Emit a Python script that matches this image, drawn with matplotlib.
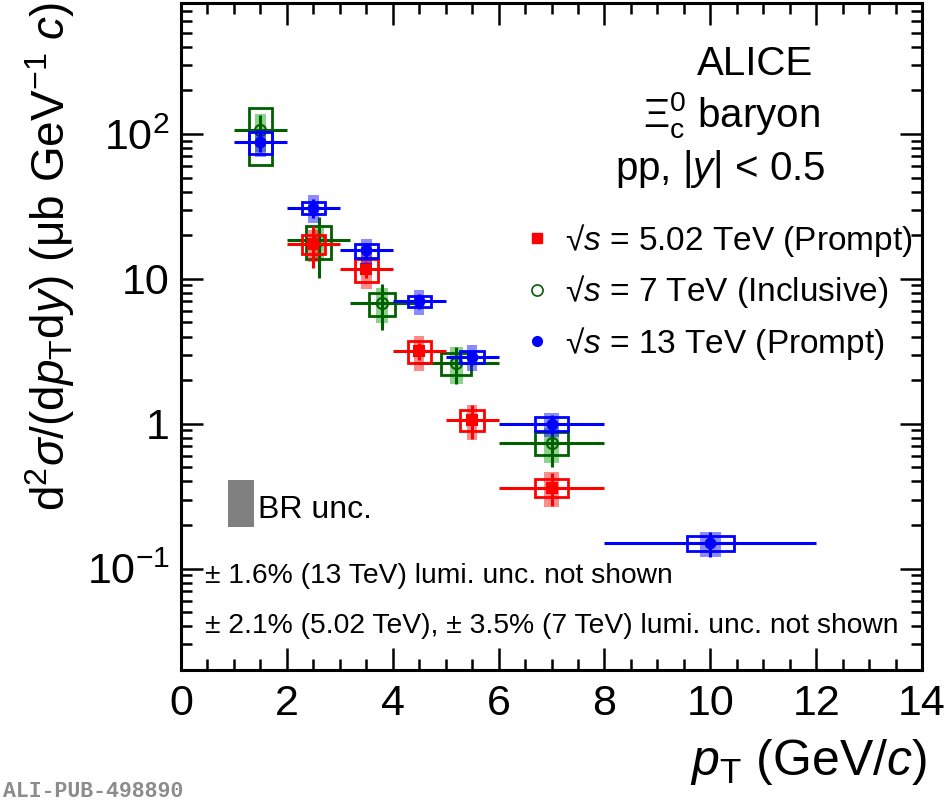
import numpy as np
import matplotlib
matplotlib.use("Agg")
import matplotlib.pyplot as plt
from matplotlib.patches import Rectangle
from matplotlib.lines import Line2D
from matplotlib.ticker import FixedLocator, MultipleLocator, LogLocator, NullFormatter

plt.rcParams['font.family'] = ['Liberation Sans', 'DejaVu Sans']
plt.rcParams['mathtext.fontset'] = 'custom'
plt.rcParams['mathtext.rm'] = 'Liberation Sans'
plt.rcParams['mathtext.it'] = 'Liberation Sans:italic'
plt.rcParams['mathtext.bf'] = 'Liberation Sans:bold'

# ---- data ----
# sqrt(s) = 5.02 TeV, prompt
pt_502 = np.array([2.5, 3.5, 4.5, 5.5, 7.0])
lo_502 = np.array([2.0, 3.0, 4.0, 5.0, 6.0])
hi_502 = np.array([3.0, 4.0, 5.0, 6.0, 8.0])
y_502 = np.array([17.5, 11.6, 3.18, 1.065, 0.363])
stat_502 = np.array([0.32, 0.12, 0.13, 0.26, 0.25])   # relative
syst_502 = np.array([0.15, 0.18, 0.17, 0.16, 0.14])
shade_502 = np.array([0.25, 0.27, 0.27, 0.27, 0.27])

# sqrt(s) = 7 TeV, inclusive
pt_7 = np.array([1.5, 2.6, 3.8, 5.2, 7.0])
lo_7 = np.array([1.0, 2.0, 3.2, 4.4, 6.0])
hi_7 = np.array([2.0, 3.2, 4.4, 6.0, 8.0])
y_7 = np.array([106.0, 18.5, 6.8, 2.63, 0.74])
stat_7 = np.array([0.28, 0.45, 0.35, 0.28, 0.32])
syst_7 = np.array([0.42, 0.26, 0.18, 0.17, 0.18])
shade_7 = np.array([0.29, 0.28, 0.27, 0.28, 0.27])

# sqrt(s) = 13 TeV, prompt
pt_13 = np.array([1.5, 2.5, 3.5, 4.5, 5.5, 7.0, 10.0])
lo_13 = np.array([1.0, 2.0, 3.0, 4.0, 5.0, 6.0, 8.0])
hi_13 = np.array([2.0, 3.0, 4.0, 5.0, 6.0, 8.0, 12.0])
y_13 = np.array([88.0, 31.0, 15.7, 7.0, 2.9, 1.0, 0.15])
stat_13 = np.array([0.15, 0.15, 0.13, 0.12, 0.12, 0.15, 0.20])
syst_13 = np.array([0.18, 0.10, 0.11, 0.09, 0.09, 0.11, 0.12])
shade_13 = np.array([0.21, 0.22, 0.19, 0.20, 0.20, 0.19, 0.20])

# BR uncertainty box
br_x = (0.89, 1.38)
br_y = (0.193, 0.412)

leg_labels = ['\u221a$s$ = 5.02 TeV (Prompt)',
              '\u221a$s$ = 7 TeV (Inclusive)',
              '\u221a$s$ = 13 TeV (Prompt)']

RED = '#ff0000'
GREEN = '#006000'
BLUE = '#0000ff'


def draw_series(ax, pt, lo, hi, y, stat, syst, shade, color, shade_col, marker, mfc, ms, zo):
    for i in range(len(pt)):
        bw = hi[i] - lo[i]
        hs = 0.10 * np.sqrt(bw)
        hb = 0.22 * np.sqrt(bw)
        ax.add_patch(Rectangle((pt[i] - hs, y[i] * (1 - shade[i])), 2 * hs, 2 * y[i] * shade[i],
                               facecolor=shade_col, alpha=0.45, edgecolor='none', zorder=zo))
        ax.add_patch(Rectangle((pt[i] - hb, y[i] * (1 - syst[i])), 2 * hb, 2 * y[i] * syst[i],
                               facecolor='none', edgecolor=color, lw=2.0, zorder=zo + 0.1))
    ax.errorbar(pt, y, xerr=[pt - lo, hi - pt], yerr=stat * y, fmt=marker, color=color,
                mfc=mfc, mec=color, ms=ms, mew=1.5, elinewidth=2.2, capsize=0,
                zorder=zo + 0.2)


fig = plt.figure(figsize=(9.5, 8.05), dpi=100)
ax = fig.add_axes([181 / 950, 1 - 670 / 805, (922 - 181) / 950, (670 - 3) / 805])

draw_series(ax, pt_7, lo_7, hi_7, y_7, stat_7, syst_7, shade_7, GREEN, '#00a000', 'o', 'none', 8, 3)
draw_series(ax, pt_502, lo_502, hi_502, y_502, stat_502, syst_502, shade_502, RED, RED, 's', RED, 7, 4)
draw_series(ax, pt_13, lo_13, hi_13, y_13, stat_13, syst_13, shade_13, BLUE, BLUE, 'o', BLUE, 7, 5)

ax.add_patch(Rectangle((br_x[0], br_y[0]), br_x[1] - br_x[0], br_y[1] - br_y[0],
                       facecolor='#808080', edgecolor='none', zorder=2))

ax.set_yscale('log')
ax.set_xlim(0, 14)
ax.set_ylim(0.02, 800)

ax.xaxis.set_major_locator(MultipleLocator(2))
ax.xaxis.set_minor_locator(MultipleLocator(0.5))
ax.yaxis.set_major_locator(FixedLocator([0.1, 1, 10, 100]))
ax.yaxis.set_minor_locator(LogLocator(base=10, subs=np.arange(2, 10)))
ax.yaxis.set_minor_formatter(NullFormatter())
ax.set_yticklabels(['$10^{-1}$', '1', '10', '$10^{2}$'])

ax.tick_params(which='both', direction='in', top=True, right=True, width=1.8, labelsize=31)
ax.tick_params(which='major', length=16)
ax.tick_params(which='minor', length=8)
ax.tick_params(axis='x', pad=10)
ax.tick_params(axis='y', pad=8)
for s in ax.spines.values():
    s.set_linewidth(2.2)

# legend
handles = [Line2D([], [], ls='none', marker='s', color=RED, ms=7),
           Line2D([], [], ls='none', marker='o', mfc='none', mec=GREEN, mew=1.2, ms=8),
           Line2D([], [], ls='none', marker='o', color=BLUE, ms=7)]
ax.legend(handles, leg_labels, loc='upper left', bbox_to_anchor=(520 / 950, 1 - 222 / 805),
          bbox_transform=fig.transFigure, frameon=False, fontsize=24, handlelength=1.0,
          handletextpad=0.35, labelspacing=0.43, borderpad=0, borderaxespad=0)

# annotations
fig.text(813 / 950, 1 - 75 / 805, 'ALICE', ha='right', va='baseline', fontsize=29)
fig.text(820 / 950, 1 - 127 / 805, r'$\Xi_{\rm c}^{0}$ baryon', ha='right', va='baseline', fontsize=29)
fig.text(825 / 950, 1 - 180 / 805, r'pp, |$y$| < 0.5', ha='right', va='baseline', fontsize=29)

fig.text(258 / 950, 1 - 518 / 805, 'BR unc.', ha='left', va='baseline', fontsize=23)
fig.text(205 / 950, 1 - 583 / 805, '\u00b1 1.6% (13 TeV) lumi. unc. not shown',
         ha='left', va='baseline', fontsize=20.3)
fig.text(205 / 950, 1 - 633 / 805, '\u00b1 2.1% (5.02 TeV), \u00b1 3.5% (7 TeV) lumi. unc. not shown',
         ha='left', va='baseline', fontsize=20.3)

# axis titles
fig.text(927 / 950, 1 - 775 / 805, r'$p_{\rm T}$ (GeV/$c$)', ha='right', va='baseline', fontsize=36)
fig.text(65 / 950, 1 - 2 / 805, r'd$^{2}\sigma$/(d$p_{\rm T}$d$y$) ($\mathrm{\mu}$b GeV$^{-1}$ $c$)',
         rotation=90, rotation_mode='anchor', ha='right', va='baseline', fontsize=33)

fig.text(3 / 950, 1 - 797 / 805, 'ALI-PUB-498890', ha='left', va='baseline', fontsize=15.5,
         family=['Liberation Mono', 'DejaVu Sans Mono'], weight='bold', color='#8c8c8c')

fig.savefig('out.png', dpi=100)
